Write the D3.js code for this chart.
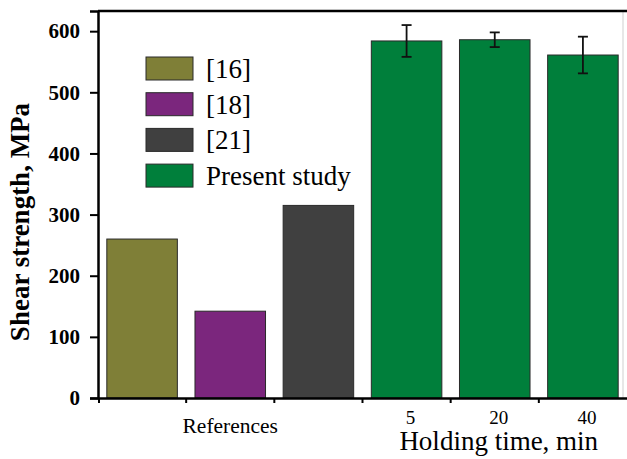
<!DOCTYPE html>
<html>
<head>
<meta charset="utf-8">
<script src="https://cdn.jsdelivr.net/npm/d3@7"></script>
<style>
body { margin: 0; background: #fff; }
#container { width: 627px; height: 459px; }
</style>
</head>
<body>
<div id="container"></div>
<script>
// chart data
var categories = ['[16]', '[18]', '[21]', '5', '20', '40'];
var values = [260, 142, 315, 584, 586, 561];
var errors = [0, 0, 0, 26, 12, 30];
var barColors = ['#7f7f37', '#7b267d', '#404040', '#007f3b', '#007f3b', '#007f3b'];
var yTicks = [0, 100, 200, 300, 400, 500, 600];
var legendLabels = ['[16]', '[18]', '[21]', 'Present study'];
var legendColors = ['#7f7f37', '#7b267d', '#404040', '#007f3b'];
var timeLabels = ['5', '20', '40'];

var serif = '"Liberation Serif", "Times New Roman", Times, serif';

var margin = { top: 11, right: 0, bottom: 61, left: 98 };
var width = 627 - margin.left - margin.right,
	height = 459 - margin.top - margin.bottom;

var svg = d3.select('#container').append('svg')
	.attr('width', 627)
	.attr('height', 459)
	.style('font-family', serif);

var g = svg.append('g')
	.attr('transform', 'translate(' + margin.left + ',' + margin.top + ')');

var x = d3.scaleBand()
	.domain(categories)
	.range([0, width])
	.paddingInner(0.2)
	.paddingOuter(0.1);

var y = d3.scaleLinear()
	.domain([0, 633])
	.range([height, 0]);

// right frame (faint) and top frame
g.append('line')
	.attr('x1', width - 4).attr('x2', width - 4)
	.attr('y1', 0).attr('y2', height)
	.attr('stroke', '#cfcfcf').attr('stroke-width', 1);

g.append('line')
	.attr('x1', 0).attr('x2', width)
	.attr('y1', 0).attr('y2', 0)
	.attr('stroke', '#000').attr('stroke-width', 2.5);

// bars
g.selectAll('.bar')
	.data(values)
	.enter().append('rect')
	.attr('class', 'bar')
	.attr('x', function(d, i) { return x(categories[i]); })
	.attr('y', function(d) { return y(d); })
	.attr('width', x.bandwidth())
	.attr('height', function(d) { return height - y(d); })
	.style('fill', function(d, i) { return barColors[i]; })
	.attr('stroke', '#2a2a2a')
	.attr('stroke-width', 1);

// error bars
var eb = g.selectAll('.err')
	.data(values.map(function(v, i) { return { v: v, e: errors[i], c: categories[i] }; })
		.filter(function(d) { return d.e > 0; }))
	.enter().append('g')
	.attr('class', 'err')
	.attr('stroke', '#111')
	.attr('stroke-width', 1.8);

eb.append('line')
	.attr('x1', function(d) { return x(d.c) + x.bandwidth() / 2; })
	.attr('x2', function(d) { return x(d.c) + x.bandwidth() / 2; })
	.attr('y1', function(d) { return y(d.v + d.e); })
	.attr('y2', function(d) { return y(d.v - d.e); });

eb.append('line')
	.attr('x1', function(d) { return x(d.c) + x.bandwidth() / 2 - 5; })
	.attr('x2', function(d) { return x(d.c) + x.bandwidth() / 2 + 5; })
	.attr('y1', function(d) { return y(d.v + d.e); })
	.attr('y2', function(d) { return y(d.v + d.e); });

eb.append('line')
	.attr('x1', function(d) { return x(d.c) + x.bandwidth() / 2 - 5; })
	.attr('x2', function(d) { return x(d.c) + x.bandwidth() / 2 + 5; })
	.attr('y1', function(d) { return y(d.v - d.e); })
	.attr('y2', function(d) { return y(d.v - d.e); });

// y axis
var yAxis = g.append('g')
	.call(d3.axisLeft(y).tickValues(yTicks).tickSize(8).tickPadding(10));
yAxis.attr('font-family', null);
yAxis.select('.domain').attr('stroke-width', 2.5);
yAxis.selectAll('.tick line').attr('stroke-width', 2);
yAxis.selectAll('.tick text')
	.style('font-size', '21px')
	.style('font-weight', 'bold');

// x axis: ticks sit on the band boundaries
var xAxis = g.append('g')
	.attr('transform', 'translate(0,' + height + ')')
	.call(d3.axisBottom(x).tickSize(0).tickFormat(''));
xAxis.select('.domain').attr('stroke-width', 2.5);

var bounds = categories.map(function(c) { return x(c) - x.step() * x.paddingInner() / 2; });
bounds[0] = 1;
xAxis.selectAll('.bound')
	.data(bounds)
	.enter().append('line')
	.attr('class', 'bound')
	.attr('x1', function(d) { return d; })
	.attr('x2', function(d) { return d; })
	.attr('y1', 0).attr('y2', 5)
	.attr('stroke', '#000').attr('stroke-width', 2);

// x labels
g.append('text')
	.attr('x', x('[18]') + x.bandwidth() / 2)
	.attr('y', height + 35)
	.attr('text-anchor', 'middle')
	.style('font-size', '21.5px')
	.text('References');

g.selectAll('.tlab')
	.data(timeLabels)
	.enter().append('text')
	.attr('class', 'tlab')
	.attr('x', function(d) { return x(d) + x.bandwidth() / 2 + 4; })
	.attr('y', height + 26)
	.attr('text-anchor', 'middle')
	.style('font-size', '19px')
	.text(function(d) { return d; });

g.append('text')
	.attr('x', x('20') + x.bandwidth() / 2 + 4)
	.attr('y', height + 52)
	.attr('text-anchor', 'middle')
	.style('font-size', '27px')
	.text('Holding time, min');

// y title
svg.append('text')
	.attr('transform', 'translate(29,' + (margin.top + 211) + ') rotate(-90)')
	.attr('text-anchor', 'middle')
	.style('font-size', '27px')
	.style('font-weight', 'bold')
	.text('Shear strength, MPa');

// legend
var legend = g.selectAll('.legend')
	.data(legendLabels)
	.enter().append('g')
	.attr('class', 'legend')
	.attr('transform', function(d, i) { return 'translate(48,' + (46 + i * 35.7) + ')'; });

legend.append('rect')
	.attr('width', 47)
	.attr('height', 23)
	.style('fill', function(d, i) { return legendColors[i]; })
	.attr('stroke', '#2a2a2a')
	.attr('stroke-width', 1);

legend.append('text')
	.attr('x', 60)
	.attr('y', 21)
	.style('font-size', '27px')
	.text(function(d) { return d; });

svg.selectAll('text').style('font-family', serif).style('fill', '#000');
</script>
</body>
</html>
